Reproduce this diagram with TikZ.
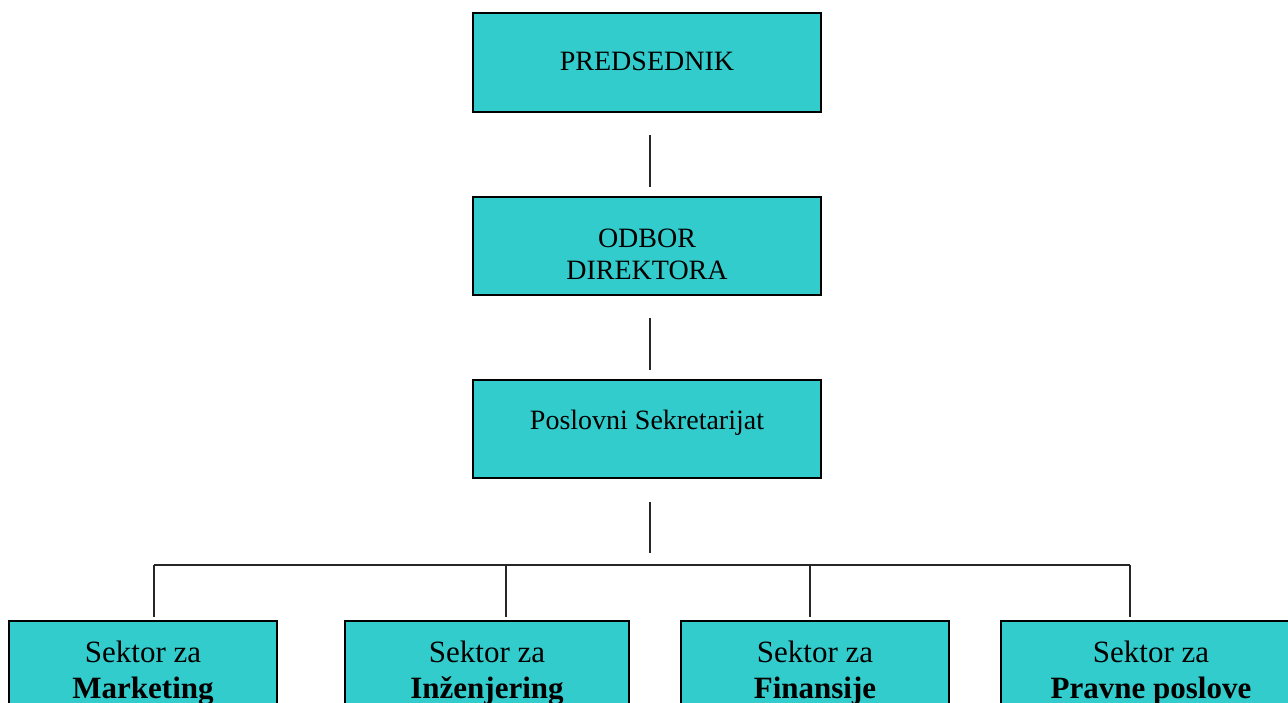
\documentclass[tikz,border=0pt]{standalone}
\usepackage{fontspec}
\setmainfont{Liberation Serif}
\definecolor{boxfill}{HTML}{33CCCC}
\begin{document}
\begin{tikzpicture}[x=1pt,y=-1pt,
  box/.style={draw=black,fill=boxfill,line width=2pt,rectangle,inner sep=0pt,outer sep=0pt},
  toptext/.style={anchor=base,inner sep=0pt,font=\fontsize{28}{32}\selectfont},
  bottext/.style={anchor=base,inner sep=0pt,font=\fontsize{31}{36}\selectfont},
  conn/.style={line width=1.4pt,draw=black!85}]
\useasboundingbox (0,0) rectangle (1288,702);
\clip (0,0) rectangle (1288,702);
\fill[white] (0,0) rectangle (1288,702);
% top boxes
\node[box,minimum width=348,minimum height=99] (pred) at (647,62.5) {};
\node[toptext] (predt) at (647,70) {PREDSEDNIK};
\node[box,minimum width=348,minimum height=98] (odbor) at (647,246) {};
\node[toptext] (odbort1) at (647,247) {ODBOR};
\node[toptext] (odbort2) at (647,279) {DIREKTORA};
\node[box,minimum width=348,minimum height=98] (posl) at (647,429) {};
\node[toptext] (poslt) at (647,429) {Poslovni Sekretarijat};
% bottom boxes
\node[box,minimum width=268,minimum height=160] (mark) at (143,701) {};
\node[box,minimum width=284,minimum height=160] (inz) at (487,701) {};
\node[box,minimum width=268,minimum height=160] (fin) at (815,701) {};
\node[box,minimum width=300,minimum height=160] (prav) at (1151,701) {};
\node[bottext] (markt1) at (143,662) {Sektor za};
\node[bottext] (markt2) at (143,698) {\textbf{Marketing}};
\node[bottext] (inzt1) at (487,662) {Sektor za};
\node[bottext] (inzt2) at (487,698) {\textbf{Inženjering}};
\node[bottext] (fint1) at (815,662) {Sektor za};
\node[bottext] (fint2) at (815,698) {\textbf{Finansije}};
\node[bottext] (pravt1) at (1151,662) {Sektor za};
\node[bottext] (pravt2) at (1151,698) {\textbf{Pravne poslove}};
% connector coordinates
\coordinate (c1a) at (650,135);
\coordinate (c1b) at (650,187);
\coordinate (c2a) at (650,318);
\coordinate (c2b) at (650,370);
\coordinate (c3a) at (650,502);
\coordinate (c3b) at (650,553);
\coordinate (hl) at (154,565);
\coordinate (hr) at (1130,565);
\coordinate (h2) at (506,565);
\coordinate (h3) at (810,565);
\draw[conn] (c1a) -- (c1b);
\draw[conn] (c2a) -- (c2b);
\draw[conn] (c3a) -- (c3b);
\draw[conn] (hl) -- (hr);
\draw[conn] (hl) -- (hl |- 0,617);
\draw[conn] (h2) -- (h2 |- 0,617);
\draw[conn] (h3) -- (h3 |- 0,617);
\draw[conn] (hr) -- (hr |- 0,617);
\end{tikzpicture}
\end{document}
